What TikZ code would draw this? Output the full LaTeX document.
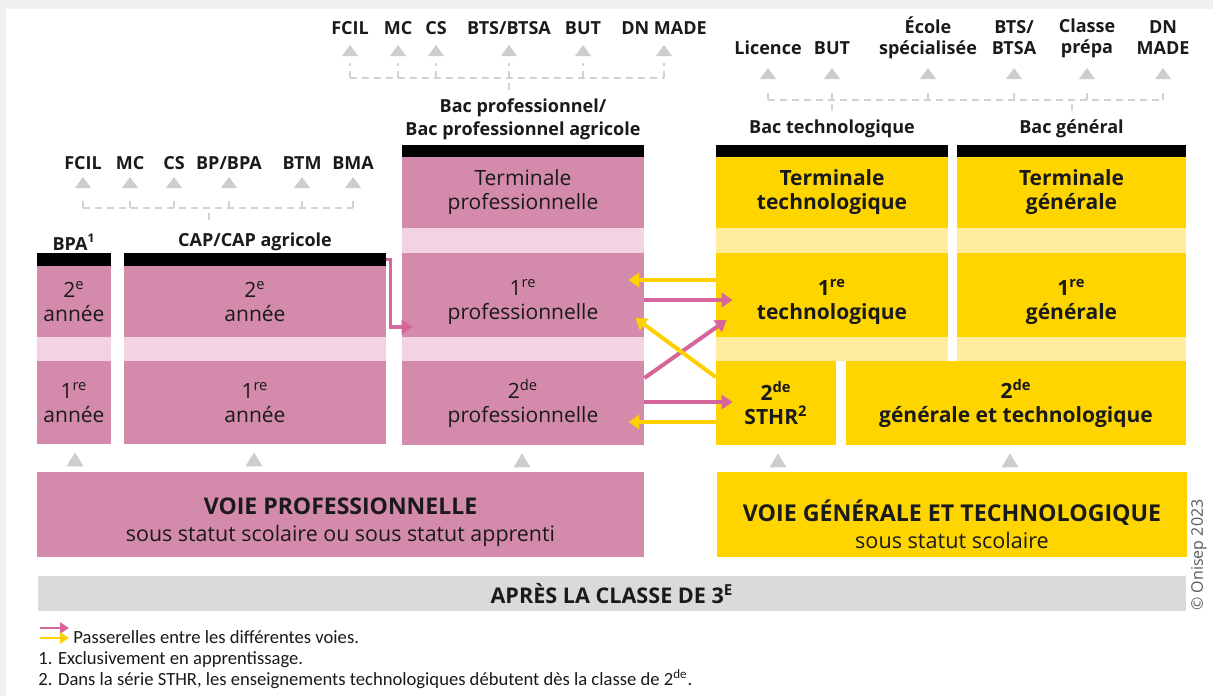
\documentclass[tikz,border=0pt]{standalone}
\usepackage{fontspec}
\setmainfont{Open Sans}
\newfontfamily\notefont{Carlito}
\usetikzlibrary{arrows.meta}

\definecolor{probg}{HTML}{D38AAB}
\definecolor{prolt}{HTML}{F1D3E2}
\definecolor{gtbg}{HTML}{FFD500}
\definecolor{gtlt}{HTML}{FFEC9C}
\definecolor{pinkarrow}{HTML}{D5659B}
\definecolor{yellowarrow}{HTML}{FFD000}
\definecolor{greybar}{HTML}{DADADA}
\definecolor{tricol}{HTML}{CDCDCD}
\definecolor{dashcol}{HTML}{D2D2D2}
\definecolor{framecol}{HTML}{F0F0F0}
\definecolor{ink}{HTML}{1A1A1A}

\tikzset{
  cell/.style={inner sep=0pt, align=center, text=ink},
  probox/.style={cell, fill=probg, font=\fontsize{10.5}{12}\selectfont},
  gtbox/.style={cell, fill=gtbg, font=\bfseries\fontsize{10.5}{12}\selectfont},
  protext/.style={cell, font=\fontsize{10.5}{12}\selectfont},
  gttext/.style={cell, font=\bfseries\fontsize{10.5}{12}\selectfont},
  proband/.style={fill=prolt, inner sep=0pt},
  gtband/.style={fill=gtlt, inner sep=0pt},
  topbar/.style={fill=black, inner sep=0pt},
  lbl/.style={align=center, inner sep=0pt, text=ink, font=\bfseries\fontsize{9}{10.5}\selectfont},
  note/.style={inner sep=0pt, anchor=west, text=ink, font=\notefont\fontsize{9.3}{11}\selectfont},
  dline/.style={dashcol, line width=1pt, dash pattern=on 3.5pt off 2.5pt},
  tri/.style={fill=tricol},
  parrow/.style={pinkarrow, line width=2pt, -{Triangle[width=7pt,length=5.5pt]}},
  yarrow/.style={yellowarrow, line width=2pt, -{Triangle[width=7pt,length=5.5pt]}},
}

\begin{document}
\begin{tikzpicture}[x=0.5pt,y=-0.5pt]
  \useasboundingbox (0,0) rectangle (1213,696);
  \fill[framecol] (0,0) rectangle (1213,696);
  \fill[white] (6,9) rectangle (1213,696);

  % CAP / BPA
  \node[topbar, minimum width=37pt, minimum height=6.5pt] (bpabar) at (74,259.5) {};
  \node[topbar, minimum width=131pt, minimum height=6.5pt] (capbar) at (255,259.5) {};
  \node[probox, minimum width=37pt, minimum height=35.5pt] (bpa2) at (74,301.5) {2\textsuperscript{e}\\année};
  \node[proband, minimum width=37pt, minimum height=12pt] (bpaband) at (74,349) {};
  \node[probox, minimum width=37pt, minimum height=41.5pt] (bpa1) at (74,402.5) {1\textsuperscript{re}\\année};
  \node[probox, minimum width=131pt, minimum height=35.5pt] (cap2) at (255,301.5) {2\textsuperscript{e}\\année};
  \node[proband, minimum width=131pt, minimum height=12pt] (capband) at (255,349) {};
  \node[probox, minimum width=131pt, minimum height=41.5pt] (cap1) at (255,402.5) {1\textsuperscript{re}\\année};
  \node[lbl] (labbpa) at (74,242) {BPA\textsuperscript{1}};
  \node[lbl] (labcap) at (255,242) {CAP/CAP agricole};

  % bac pro
  \node[topbar, minimum width=121pt, minimum height=6pt] (probar) at (523,151) {};
  \node[probox, minimum width=121pt, minimum height=35.5pt] (tpro) at (523,192.5) {Terminale\\professionnelle};
  \node[proband, minimum width=121pt, minimum height=12.5pt] (proband1) at (523,240.5) {};
  \node[probox, minimum width=121pt, minimum height=42pt] (ppro) at (523,295) {};
  \node[protext] at ([yshift=-3.5pt]ppro.center) {1\textsuperscript{re}\\professionnelle};
  \node[proband, minimum width=121pt, minimum height=12pt] (proband2) at (523,349) {};
  \node[probox, minimum width=121pt, minimum height=42pt] (spro) at (523,403) {2\textsuperscript{de}\\professionnelle};
  \node[lbl, font=\bfseries\fontsize{9}{11.5}\selectfont] (labpro) at (523,119) {Bac professionnel/\\Bac professionnel agricole};

  % bac techno / general
  \node[topbar, minimum width=116pt, minimum height=6pt] (techbar) at (832,151) {};
  \node[topbar, minimum width=114.5pt, minimum height=6pt] (genbar) at (1071.5,151) {};
  \node[gtbox, minimum width=116pt, minimum height=35.5pt] (ttech) at (832,192.5) {Terminale\\technologique};
  \node[gtbox, minimum width=114.5pt, minimum height=35.5pt] (tgen) at (1071.5,192.5) {Terminale\\générale};
  \node[gtband, minimum width=116pt, minimum height=12.5pt] (techband1) at (832,240.5) {};
  \node[gtband, minimum width=114.5pt, minimum height=12.5pt] (genband1) at (1071.5,240.5) {};
  \node[gtbox, minimum width=116pt, minimum height=42pt] (ptech) at (832,295) {};
  \node[gttext] at ([yshift=-3.5pt]ptech.center) {1\textsuperscript{re}\\technologique};
  \node[gtbox, minimum width=114.5pt, minimum height=42pt] (pgen) at (1071.5,295) {};
  \node[gttext] at ([yshift=-3.5pt]pgen.center) {1\textsuperscript{re}\\générale};
  \node[gtband, minimum width=116pt, minimum height=12pt] (techband2) at (832,349) {};
  \node[gtband, minimum width=114.5pt, minimum height=12pt] (genband2) at (1071.5,349) {};
  \node[gtbox, minimum width=60pt, minimum height=42pt] (sthr) at (776,403) {2\textsuperscript{de}\\STHR\textsuperscript{2}};
  \node[gtbox, minimum width=170pt, minimum height=42pt] (sgt) at (1016,403) {2\textsuperscript{de}\\générale et technologique};
  \node[lbl] (labtech) at (832,129) {Bac technologique};
  \node[lbl] (labgen) at (1071.5,129) {Bac général};

  % voies
  \node[probox, minimum width=303.5pt, minimum height=42.5pt] (voiepro) at (340.5,514.5) {};
  \node[protext, font=\fontsize{10.7}{13.5}\selectfont] at ([yshift=-4pt]voiepro.center)
    {{\bfseries\fontsize{11.5}{13.5}\selectfont VOIE PROFESSIONNELLE}\\sous statut scolaire ou sous statut apprenti};
  \node[gtbox, minimum width=235pt, minimum height=42.5pt] (voiegt) at (952,514.5) {};
  \node[protext, font=\fontsize{10.8}{13.5}\selectfont] at ([yshift=-5pt]voiegt.center)
    {{\bfseries\fontsize{11.6}{13.5}\selectfont VOIE GÉNÉRALE ET TECHNOLOGIQUE}\\sous statut scolaire};
  \node[cell, fill=greybar, minimum width=574pt, minimum height=17.5pt, font=\bfseries\fontsize{10.8}{12}\selectfont] (apres) at (612,593.5)
    {APRÈS LA CLASSE DE 3\textsuperscript{E}};

  \foreach \n/\dx in {bpa1/1,cap1/-1,spro/-1,sthr/2,sgt/-6}
    \fill[tri] (\n.south) ++(\dx,8) -- ++(-8.5,14) -- ++(17,0) -- cycle;

  % debouches CAP / BPA
  \foreach \n/\x/\t in {fcilA/83/FCIL, mcA/130/MC, csA/174/CS, bpA/229/{BP/BPA}, btmA/302/BTM, bmaA/353/BMA}
    \node[lbl] (\n) at (\x,163) {\t};
  \coordinate (tipA) at (0,177);
  \coordinate (railA) at (209,208);
  \draw[dline] (209,220) -- (railA);
  \draw[dline] (railA -| fcilA) -- (railA -| bmaA);
  \foreach \n in {fcilA,mcA,csA,bpA,btmA,bmaA} {
    \draw[dline] (railA -| \n) -- ++(0,-11);
    \fill[tri] (\n |- tipA) -- ++(-8,11) -- ++(16,0) -- cycle;
  }

  % debouches bac pro
  \foreach \n/\x/\t in {fcilB/350/FCIL, mcB/398/MC, csB/436/CS, btsB/509/{BTS/BTSA}, butB/583/BUT, dnB/664/DN MADE}
    \node[lbl] (\n) at (\x,28) {\t};
  \coordinate (tipB) at (0,45);
  \coordinate (railB) at (509,78);
  \draw[dline] (509,90) -- (railB);
  \draw[dline] (railB -| fcilB) -- (railB -| dnB);
  \foreach \n in {fcilB,mcB,csB,btsB,butB,dnB} {
    \draw[dline] (railB -| \n) -- ++(0,-15);
    \fill[tri] (\n |- tipB) -- ++(-8,11) -- ++(16,0) -- cycle;
  }

  % debouches bac techno / general
  \node[lbl] (licC) at (768,48) {Licence};
  \node[lbl] (butC) at (832,48) {BUT};
  \node[lbl] (ecoleC) at (928,38) {École\\spécialisée};
  \node[lbl] (btsC) at (1014,38) {BTS/\\BTSA};
  \node[lbl] (prepaC) at (1087,38) {Classe\\prépa};
  \node[lbl] (dnC) at (1163,38) {DN\\MADE};
  \coordinate (tipC) at (0,68);
  \coordinate (railC) at (0,100);
  \draw[dline] (labtech.north) ++(0,-9) -- (labtech.north |- railC);
  \draw[dline] (labgen.north) ++(0,-9) -- (labgen.north |- railC);
  \draw[dline] (railC -| licC) -- (railC -| dnC);
  \foreach \n in {licC,butC,ecoleC,btsC,prepaC,dnC} {
    \draw[dline] (railC -| \n) -- ++(0,-12);
    \fill[tri] (\n |- tipC) -- ++(-8,11) -- ++(16,0) -- cycle;
  }

  % passerelles
  \draw[parrow, line width=1.6pt] (capbar.east) -- ++(4,0) |- ([xshift=5.5pt,yshift=-16pt]ppro.west);
  \draw[yarrow] ([yshift=7.5pt]ptech.west) -- ([yshift=7.5pt,xshift=-8pt]ppro.east);
  \draw[parrow] ([yshift=-2.5pt]ppro.east) -- ([yshift=-2.5pt,xshift=8.5pt]ptech.west);
  \draw[parrow] ([yshift=12.5pt]spro.east) -- ([xshift=5.5pt,yshift=-12.5pt]ptech.west);
  \draw[yarrow] ([yshift=13pt]sthr.west) -- ([xshift=-4.5pt,yshift=-11.5pt]ppro.east);
  \draw[parrow] ([yshift=0.5pt]spro.east) -- ([yshift=0.5pt,xshift=8.5pt]sthr.west);
  \draw[yarrow] ([yshift=-9.5pt]sthr.west) -- ([yshift=-9.5pt,xshift=-8pt]spro.east);

  % legende
  \coordinate (legP) at (40,628);
  \coordinate (legY) at (40,638);
  \draw[parrow, line width=1.3pt, -{Triangle[width=5.5pt,length=4.5pt]}] (legP) -- ++(29,0);
  \draw[yarrow, line width=1.3pt, -{Triangle[width=5.5pt,length=4.5pt]}] (legY) -- ++(29,0);
  \node[note] (legtxt) at (73,637) {Passerelles entre les différentes voies.};
  \node[note] (note1) at (38,660) {1. Exclusivement en apprentissage.};
  \node[note] (note2) at (38,679) {2. Dans la série STHR, les enseignements technologiques débutent dès la classe de 2\textsuperscript{de}.};
  \node[rotate=90, inner sep=0pt, text=black!65, font=\fontsize{8}{9}\selectfont] (copy) at (1199,555) {© Onisep 2023};
\end{tikzpicture}
\end{document}
